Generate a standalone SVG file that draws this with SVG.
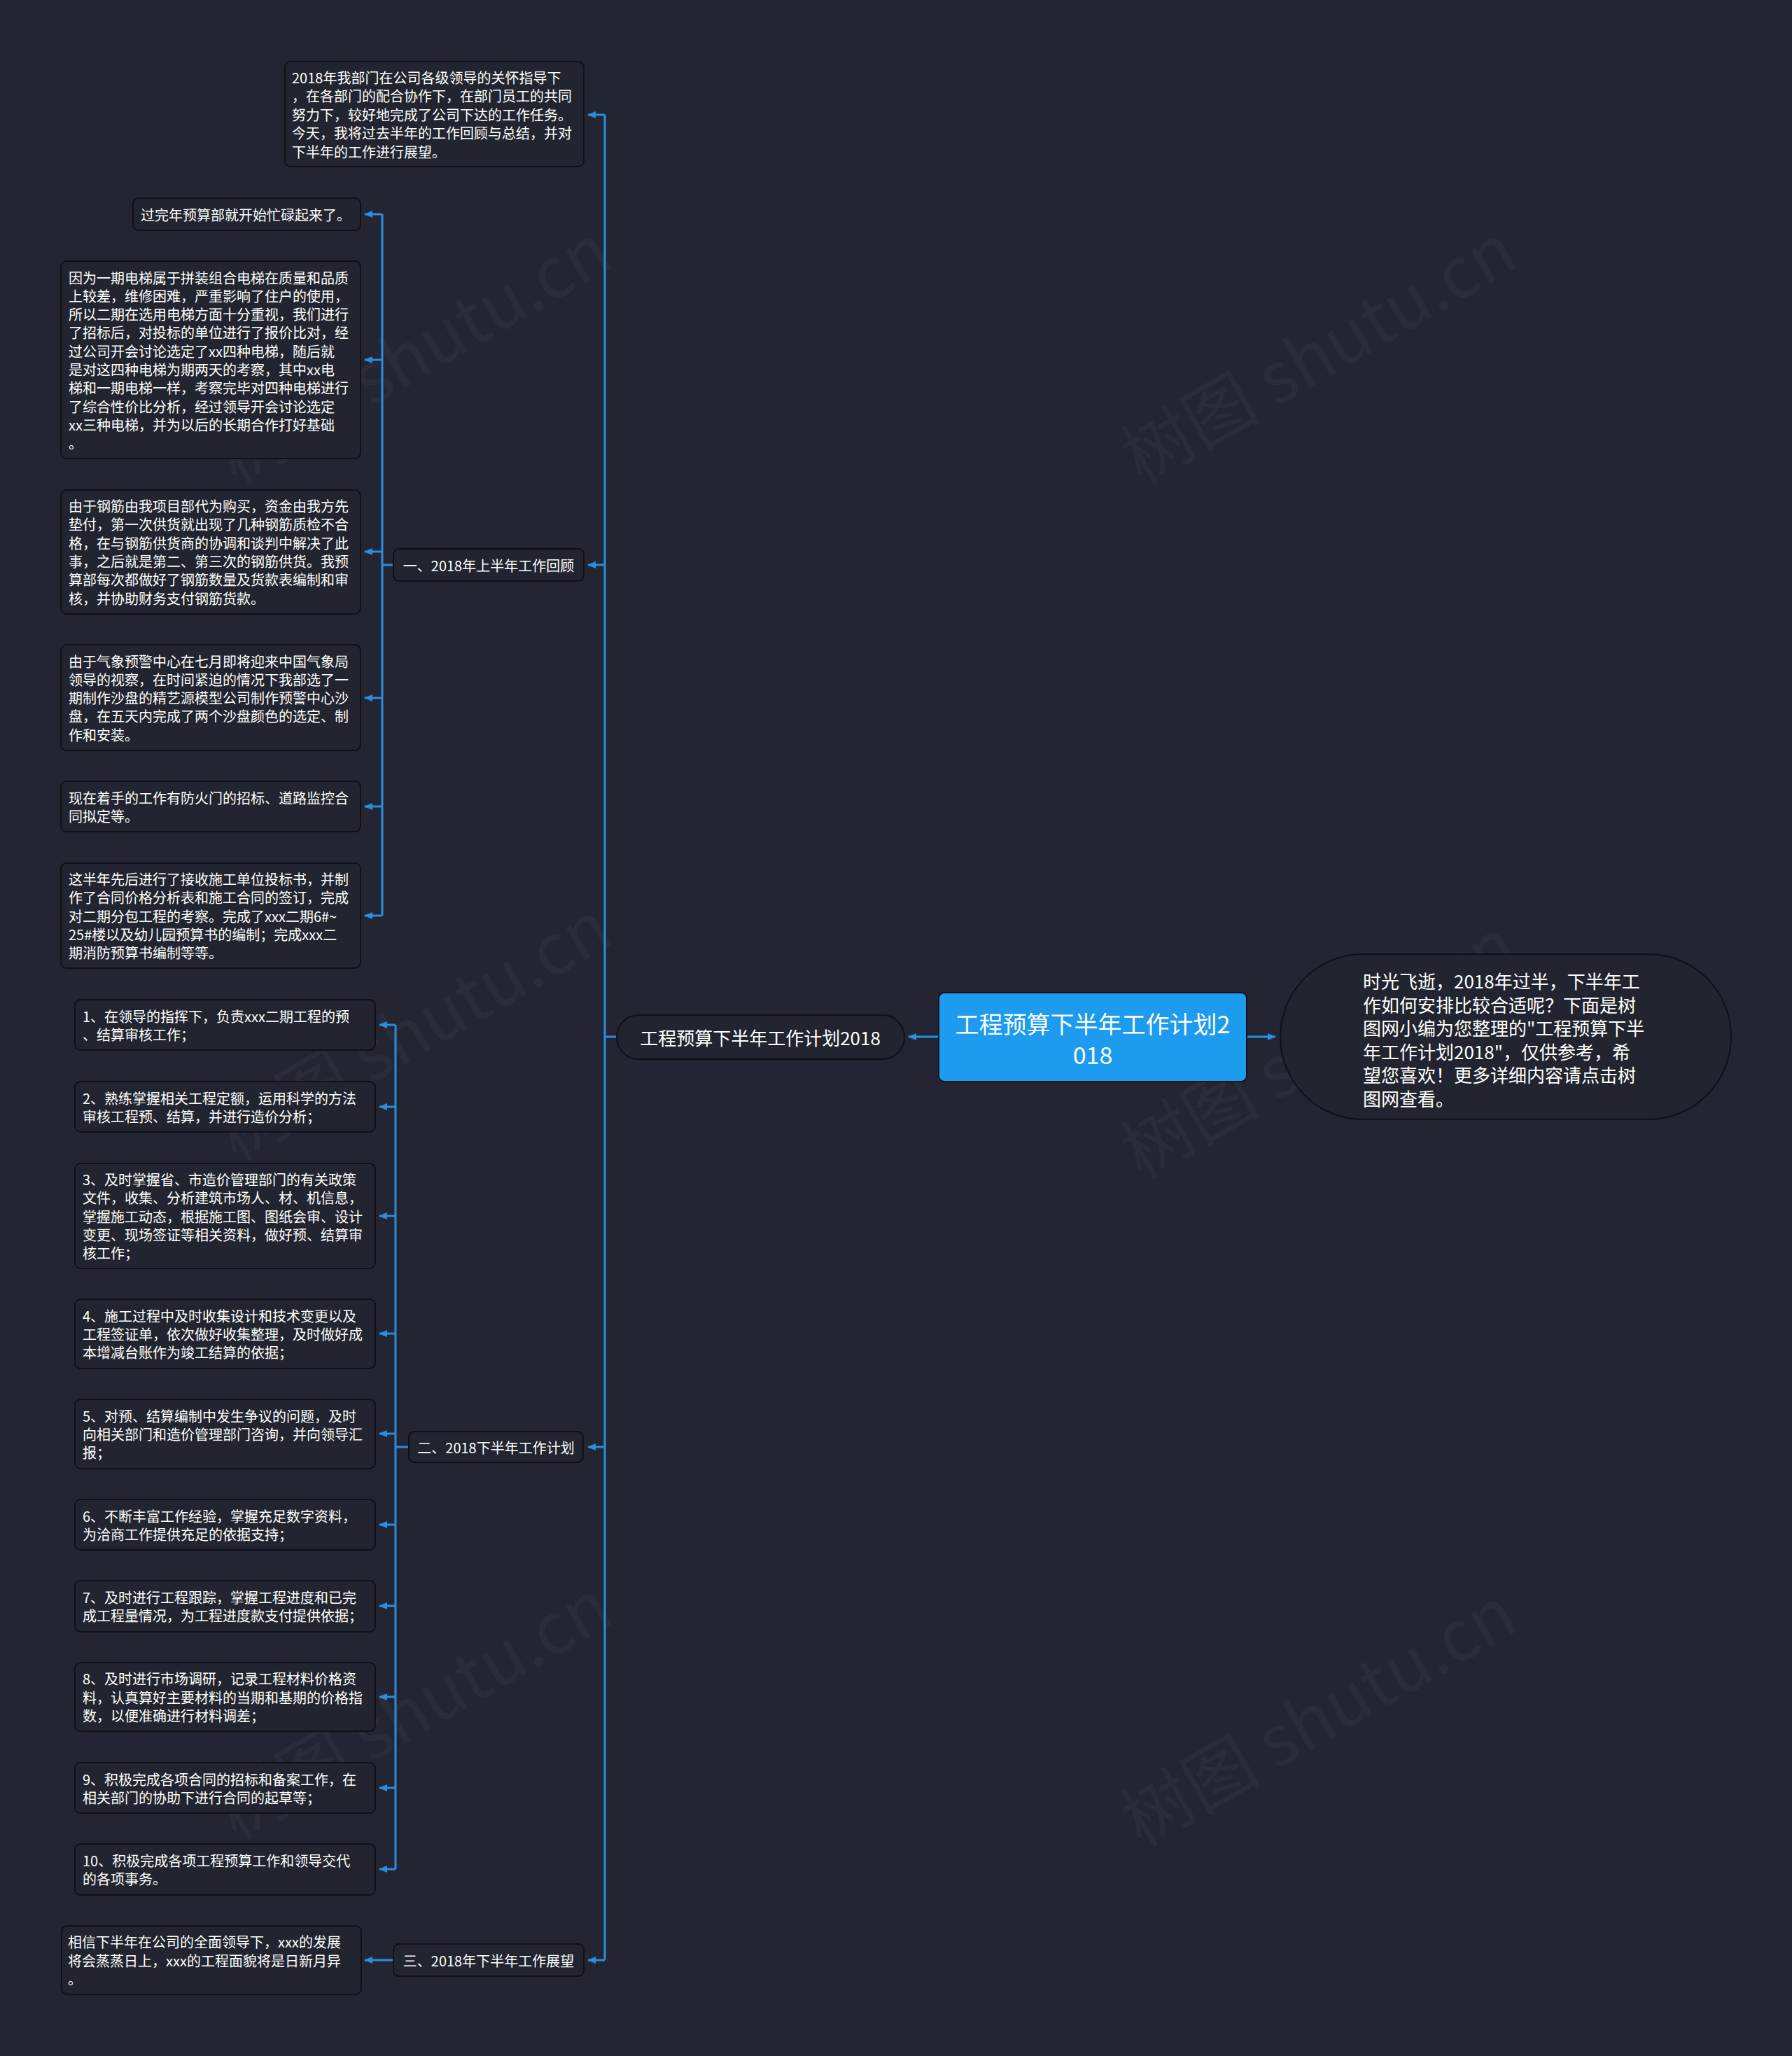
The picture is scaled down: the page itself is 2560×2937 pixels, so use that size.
<svg xmlns="http://www.w3.org/2000/svg" width="2560" height="2937" viewBox="0 0 2560 2937">
<defs>
<style>
.bg{fill:#232632}
.n{fill:#22252f;stroke:#0f1116;stroke-width:2}
.t{font-family:"Noto Sans CJK SC","Noto Sans",sans-serif;font-size:20px;fill:#ffffff;dominant-baseline:central}
.tl{font-family:"Noto Sans CJK SC","Noto Sans",sans-serif;font-size:20px;fill:#ffffff;dominant-baseline:central;text-anchor:middle}
.c{fill:none;stroke:#2a8de0;stroke-width:3}
.ca{fill:none;stroke:#2a8de0;stroke-width:3;marker-end:url(#ah)}
.wm{font-family:"Noto Sans CJK SC","Noto Sans",sans-serif;font-size:100px;fill:#ffffff;fill-opacity:0.035}
</style>
<marker id="ah" markerUnits="userSpaceOnUse" markerWidth="12" markerHeight="10" refX="11" refY="5" orient="auto">
<path d="M0,0 L12,5 L0,10 z" fill="#2a8de0"/>
</marker>
</defs>
<rect class="bg" x="0" y="0" width="2560" height="2937"/>

<g id="watermarks">
<text class="wm" transform="translate(337,693) rotate(-30)">树图 shutu.cn</text>
<text class="wm" transform="translate(1630,693) rotate(-30)">树图 shutu.cn</text>
<text class="wm" transform="translate(337,1660) rotate(-30)">树图 shutu.cn</text>
<text class="wm" transform="translate(1630,1685) rotate(-30)">树图 shutu.cn</text>
<text class="wm" transform="translate(337,2630) rotate(-30)">树图 shutu.cn</text>
<text class="wm" transform="translate(1630,2640) rotate(-30)">树图 shutu.cn</text>
</g>

<g id="connectors">
<path class="c" d="M864 164 V2800"/>
<path class="c" d="M881 1481 H864"/>
<path class="ca" d="M864 164 H840"/>
<path class="ca" d="M864 807 H840"/>
<path class="ca" d="M864 2067 H840"/>
<path class="ca" d="M864 2800 H840"/>
<path class="ca" d="M1341 1481 H1298"/>
<path class="ca" d="M1781 1481 H1822"/>
<path class="c" d="M546 306 V1308"/>
<path class="c" d="M562 807 H546"/>
<path class="ca" d="M546 306 H521"/>
<path class="ca" d="M546 514 H521"/>
<path class="ca" d="M546 788 H521"/>
<path class="ca" d="M546 997 H521"/>
<path class="ca" d="M546 1152 H521"/>
<path class="ca" d="M546 1308 H521"/>
<path class="c" d="M565 1464 V2670"/>
<path class="c" d="M584 2067 H565"/>
<path class="ca" d="M565 1464 H542"/>
<path class="ca" d="M565 1581 H542"/>
<path class="ca" d="M565 1737 H542"/>
<path class="ca" d="M565 1905 H542"/>
<path class="ca" d="M565 2048 H542"/>
<path class="ca" d="M565 2178 H542"/>
<path class="ca" d="M565 2294 H542"/>
<path class="ca" d="M565 2424 H542"/>
<path class="ca" d="M565 2554 H542"/>
<path class="ca" d="M565 2670 H542"/>
<path class="ca" d="M562 2800 H521"/>
</g>

<g id="root">
<rect x="1341" y="1418" width="440" height="127" rx="8" fill="#1c9bef" stroke="#0f1116" stroke-width="2"/>
<text x="1561" y="1461" font-family="Noto Sans CJK SC, sans-serif" font-size="34" fill="#fff" text-anchor="middle" dominant-baseline="central">工程预算下半年工作计划2</text>
<text x="1561" y="1505" font-family="Noto Sans CJK SC, sans-serif" font-size="34" fill="#fff" text-anchor="middle" dominant-baseline="central">018</text>
</g>

<g id="desc">
<rect class="n" x="1829" y="1363" width="644" height="236" rx="118"/>
<g font-family="Noto Sans CJK SC, sans-serif" font-size="26" fill="#fff" dominant-baseline="central">
<text x="1947" y="1400">时光飞逝，2018年过半，下半年工</text>
<text x="1947" y="1434">作如何安排比较合适呢？下面是树</text>
<text x="1947" y="1467">图网小编为您整理的"工程预算下半</text>
<text x="1947" y="1501">年工作计划2018"，仅供参考，希</text>
<text x="1947" y="1534">望您喜欢！更多详细内容请点击树</text>
<text x="1947" y="1568">图网查看。</text>
</g>
</g>

<g id="sub">
<rect class="n" x="881" y="1450" width="411" height="63" rx="31.5"/>
<text x="1086" y="1481" font-family="Noto Sans CJK SC, sans-serif" font-size="26" fill="#fff" text-anchor="middle" dominant-baseline="central">工程预算下半年工作计划2018</text>
</g>

<g id="intro">
<rect class="n" x="407" y="88" width="427" height="150" rx="8"/>
<text class="t" x="417" y="110">2018年我部门在公司各级领导的关怀指导下</text>
<text class="t" x="417" y="136.5">，在各部门的配合协作下，在部门员工的共同</text>
<text class="t" x="417" y="163">努力下，较好地完成了公司下达的工作任务。</text>
<text class="t" x="417" y="189.5">今天，我将过去半年的工作回顾与总结，并对</text>
<text class="t" x="417" y="216">下半年的工作进行展望。</text>
</g>

<g id="label1">
<rect class="n" x="562" y="784" width="272" height="46" rx="8"/>
<text class="tl" x="698" y="807">一、2018年上半年工作回顾</text>
</g>

<g id="label2">
<rect class="n" x="584" y="2045" width="249" height="44" rx="8"/>
<text class="tl" x="708.5" y="2067">二、2018下半年工作计划</text>
</g>

<g id="label3">
<rect class="n" x="562" y="2777" width="272" height="46" rx="8"/>
<text class="tl" x="698" y="2800">三、2018年下半年工作展望</text>
</g>

<g id="g1n1">
<rect class="n" x="190" y="283" width="325" height="46" rx="8"/>
<text class="t" x="201" y="306">过完年预算部就开始忙碌起来了。</text>
</g>

<g id="g1n2">
<rect class="n" x="87" y="373" width="428" height="282" rx="8"/>
<text class="t" x="98" y="396">因为一期电梯属于拼装组合电梯在质量和品质</text>
<text class="t" x="98" y="422.3">上较差，维修困难，严重影响了住户的使用，</text>
<text class="t" x="98" y="448.6">所以二期在选用电梯方面十分重视，我们进行</text>
<text class="t" x="98" y="474.9">了招标后，对投标的单位进行了报价比对，经</text>
<text class="t" x="98" y="501.2">过公司开会讨论选定了xx四种电梯，随后就</text>
<text class="t" x="98" y="527.5">是对这四种电梯为期两天的考察，其中xx电</text>
<text class="t" x="98" y="553.8">梯和一期电梯一样，考察完毕对四种电梯进行</text>
<text class="t" x="98" y="580.1">了综合性价比分析，经过领导开会讨论选定</text>
<text class="t" x="98" y="606.4">xx三种电梯，并为以后的长期合作打好基础</text>
<text class="t" x="98" y="632.7">。</text>
</g>

<g id="g1n3">
<rect class="n" x="87" y="700" width="428" height="177" rx="8"/>
<text class="t" x="98" y="722.5">由于钢筋由我项目部代为购买，资金由我方先</text>
<text class="t" x="98" y="748.8">垫付，第一次供货就出现了几种钢筋质检不合</text>
<text class="t" x="98" y="775.1">格，在与钢筋供货商的协调和谈判中解决了此</text>
<text class="t" x="98" y="801.4">事，之后就是第二、第三次的钢筋供货。我预</text>
<text class="t" x="98" y="827.7">算部每次都做好了钢筋数量及货款表编制和审</text>
<text class="t" x="98" y="854">核，并协助财务支付钢筋货款。</text>
</g>

<g id="g1n4">
<rect class="n" x="87" y="921" width="428" height="151" rx="8"/>
<text class="t" x="98" y="944">由于气象预警中心在七月即将迎来中国气象局</text>
<text class="t" x="98" y="970.3">领导的视察，在时间紧迫的情况下我部选了一</text>
<text class="t" x="98" y="996.6">期制作沙盘的精艺源模型公司制作预警中心沙</text>
<text class="t" x="98" y="1022.9">盘，在五天内完成了两个沙盘颜色的选定、制</text>
<text class="t" x="98" y="1049.2">作和安装。</text>
</g>

<g id="g1n5">
<rect class="n" x="87" y="1116" width="428" height="72" rx="8"/>
<text class="t" x="98" y="1139">现在着手的工作有防火门的招标、道路监控合</text>
<text class="t" x="98" y="1165.3">同拟定等。</text>
</g>

<g id="g1n6">
<rect class="n" x="87" y="1233" width="428" height="150" rx="8"/>
<text class="t" x="98" y="1255.4">这半年先后进行了接收施工单位投标书，并制</text>
<text class="t" x="98" y="1281.7">作了合同价格分析表和施工合同的签订，完成</text>
<text class="t" x="98" y="1308">对二期分包工程的考察。完成了xxx二期6#~</text>
<text class="t" x="98" y="1334.3">25#楼以及幼儿园预算书的编制；完成xxx二</text>
<text class="t" x="98" y="1360.6">期消防预算书编制等等。</text>
</g>

<g id="g2n1">
<rect class="n" x="107" y="1428" width="429" height="72" rx="8"/>
<text class="t" x="118" y="1451">1、在领导的指挥下，负责xxx二期工程的预</text>
<text class="t" x="118" y="1477.3">、结算审核工作；</text>
</g>
<g id="g2n2">
<rect class="n" x="107" y="1545" width="429" height="72" rx="8"/>
<text class="t" x="118" y="1568">2、熟练掌握相关工程定额，运用科学的方法</text>
<text class="t" x="118" y="1594.3">审核工程预、结算，并进行造价分析；</text>
</g>
<g id="g2n3">
<rect class="n" x="107" y="1662" width="429" height="150" rx="8"/>
<text class="t" x="118" y="1684.4">3、及时掌握省、市造价管理部门的有关政策</text>
<text class="t" x="118" y="1710.7">文件，收集、分析建筑市场人、材、机信息，</text>
<text class="t" x="118" y="1737">掌握施工动态，根据施工图、图纸会审、设计</text>
<text class="t" x="118" y="1763.3">变更、现场签证等相关资料，做好预、结算审</text>
<text class="t" x="118" y="1789.6">核工作；</text>
</g>
<g id="g2n4">
<rect class="n" x="107" y="1856" width="429" height="99" rx="8"/>
<text class="t" x="118" y="1879.2">4、施工过程中及时收集设计和技术变更以及</text>
<text class="t" x="118" y="1905.5">工程签证单，依次做好收集整理，及时做好成</text>
<text class="t" x="118" y="1931.8">本增减台账作为竣工结算的依据；</text>
</g>
<g id="g2n5">
<rect class="n" x="107" y="1999" width="429" height="99" rx="8"/>
<text class="t" x="118" y="2022.2">5、对预、结算编制中发生争议的问题，及时</text>
<text class="t" x="118" y="2048.5">向相关部门和造价管理部门咨询，并向领导汇</text>
<text class="t" x="118" y="2074.8">报；</text>
</g>
<g id="g2n6">
<rect class="n" x="107" y="2142" width="429" height="72" rx="8"/>
<text class="t" x="118" y="2165">6、不断丰富工作经验，掌握充足数字资料，</text>
<text class="t" x="118" y="2191.3">为洽商工作提供充足的依据支持；</text>
</g>
<g id="g2n7">
<rect class="n" x="107" y="2258" width="429" height="73" rx="8"/>
<text class="t" x="118" y="2281.4">7、及时进行工程跟踪，掌握工程进度和已完</text>
<text class="t" x="118" y="2307.7">成工程量情况，为工程进度款支付提供依据；</text>
</g>
<g id="g2n8">
<rect class="n" x="107" y="2375" width="429" height="98" rx="8"/>
<text class="t" x="118" y="2397.7">8、及时进行市场调研，记录工程材料价格资</text>
<text class="t" x="118" y="2424">料，认真算好主要材料的当期和基期的价格指</text>
<text class="t" x="118" y="2450.3">数，以便准确进行材料调差；</text>
</g>
<g id="g2n9">
<rect class="n" x="107" y="2518" width="429" height="72" rx="8"/>
<text class="t" x="118" y="2541">9、积极完成各项合同的招标和备案工作，在</text>
<text class="t" x="118" y="2567.3">相关部门的协助下进行合同的起草等；</text>
</g>
<g id="g2n10">
<rect class="n" x="107" y="2634" width="429" height="73" rx="8"/>
<text class="t" x="118" y="2657.4">10、积极完成各项工程预算工作和领导交代</text>
<text class="t" x="118" y="2683.7">的各项事务。</text>
</g>

<g id="g3n1">
<rect class="n" x="88" y="2751" width="428" height="98" rx="8"/>
<text class="t" x="97" y="2773.7">相信下半年在公司的全面领导下，xxx的发展</text>
<text class="t" x="97" y="2800">将会蒸蒸日上，xxx的工程面貌将是日新月异</text>
<text class="t" x="97" y="2826.3">。</text>
</g>
</svg>
